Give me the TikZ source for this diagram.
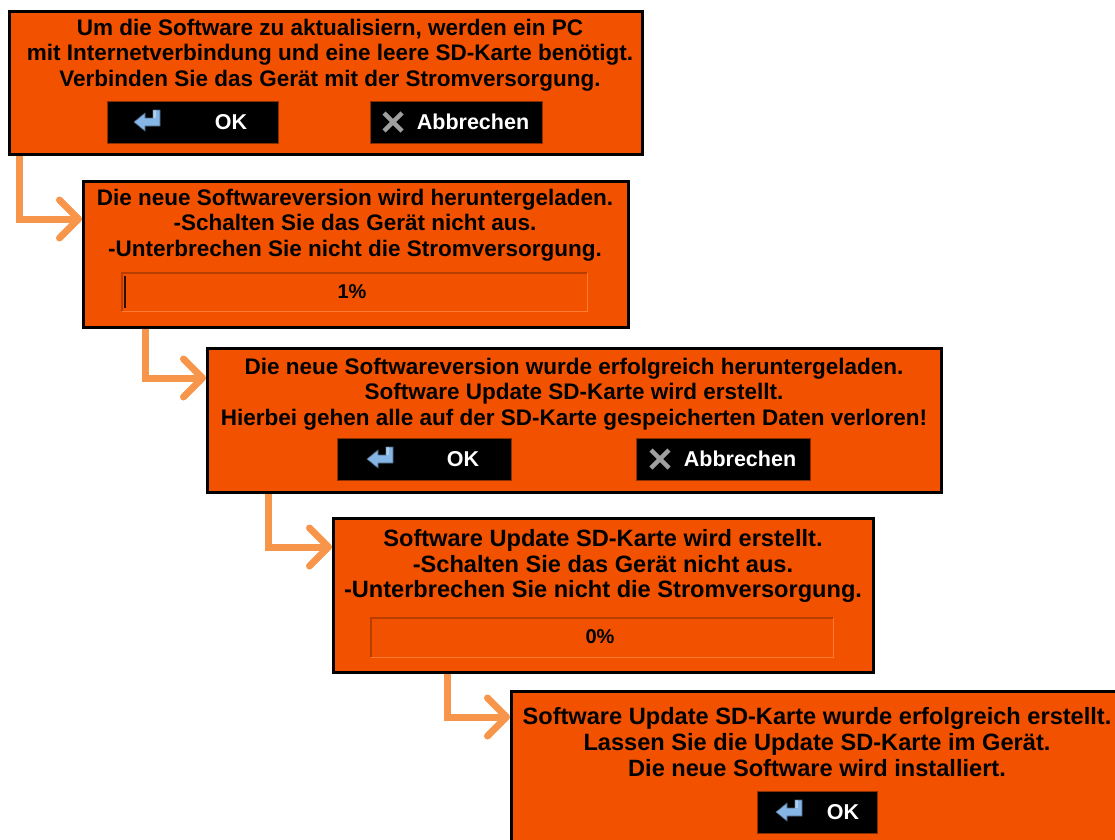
\documentclass[tikz,border=0pt]{standalone}
\usepackage{fontspec}
\setmainfont{Liberation Sans}
\usetikzlibrary{arrows.meta,calc}
\definecolor{scr}{HTML}{F25200}
\definecolor{flowc}{HTML}{F7964A}
\definecolor{bardark}{HTML}{B83E00}
\definecolor{barlight}{HTML}{FF7A33}
\definecolor{iconblue}{HTML}{86B6E6}
\definecolor{btnedge}{HTML}{8A3000}
\begin{document}
\begin{tikzpicture}[x=1pt,y=-1pt,
  screen/.style={draw=black, line width=3pt, fill=scr, inner sep=0pt, anchor=north west},
  msg/.style={font=\bfseries\fontsize{22.5}{25.3}\selectfont, align=center, text=black, inner sep=0pt},
  msgbig/.style={msg, font=\bfseries\fontsize{23.6}{25.6}\selectfont},
  btn/.style={fill=black, draw=btnedge, line width=1pt, inner sep=0pt, anchor=north west},
  btntext/.style={font=\bfseries\fontsize{21.5}{24}\selectfont, text=white, inner sep=0pt},
  bar/.style={inner sep=0pt, anchor=north west},
  pct/.style={font=\bfseries\fontsize{20}{22}\selectfont, text=black, inner sep=0pt},
  flow/.style={draw=flowc, line width=7pt, -{Straight Barb[length=19pt,width=38pt,round]}},
  reticon/.pic={
    \fill[iconblue, draw=iconblue!55!black, line width=0.6pt]
      (5,-11) -- (12,-11) -- (12,5) -- (-3,5) -- (-3,10) -- (-14,1) -- (-3,-8) -- (-3,-3) -- (5,-3) -- cycle;
    \fill[white, opacity=0.35] (5,-11) -- (8,-11) -- (8,-3) -- (5,-3) -- cycle;
  },
  xicon/.pic={
    \draw[gray!75, line width=4.5pt] (-9,-9) -- (9,9) (-9,9) -- (9,-9);
  }
]
\useasboundingbox (0,0) rectangle (1115,839);
\clip (0,0) rectangle (1115,839);

% Screen 1
\node[screen, minimum width=633pt, minimum height=143pt] (b1) at (8,10) {};
\node[msg] (t1) at (330,55) {Um die Software zu aktualisiern, werden ein PC\\mit Internetverbindung und eine leere SD-Karte benötigt.\\Verbinden Sie das Gerät mit der Stromversorgung.};
\node[btn, minimum width=171pt, minimum height=42pt] (ok1) at (107,101) {};
\pic at (148,121) {reticon};
\node[btntext] (ok1t) at (231,122) {OK};
\node[btn, minimum width=172pt, minimum height=42pt] (ab1) at (370,101) {};
\pic at (393,122) {xicon};
\node[btntext] (ab1t) at (473,122) {Abbrechen};

% Screen 2
\node[screen, minimum width=545pt, minimum height=146pt] (b2) at (82,180) {};
\node[msg] (t2) at (355,225) {Die neue Softwareversion wird heruntergeladen.\\-Schalten Sie das Gerät nicht aus.\\-Unterbrechen Sie nicht die Stromversorgung.};
\node[bar, minimum width=465pt, minimum height=38pt] (p2) at (122,273) {};
\draw[bardark, line width=1.2pt] (p2.south west) -- (p2.north west) -- (p2.north east);
\draw[barlight, line width=1.2pt] (p2.north east) -- (p2.south east) -- (p2.south west);
\draw[black!80!scr, line width=1.2pt] ([xshift=3pt,yshift=-3pt]p2.north west) -- ([xshift=3pt,yshift=3pt]p2.south west);
\node[pct] (p2t) at (352,292) {1\%};

% Screen 3
\node[screen, minimum width=734pt, minimum height=144pt] (b3) at (206,347) {};
\node[msg] (t3) at (574,394) {Die neue Softwareversion wurde erfolgreich heruntergeladen.\\Software Update SD-Karte wird erstellt.\\Hierbei gehen alle auf der SD-Karte gespeicherten Daten verloren!};
\node[btn, minimum width=174pt, minimum height=42pt] (ok3) at (337,438) {};
\pic at (381,458) {reticon};
\node[btntext] (ok3t) at (463,459) {OK};
\node[btn, minimum width=174pt, minimum height=42pt] (ab3) at (636,438) {};
\pic at (660,459) {xicon};
\node[btntext] (ab3t) at (740,459) {Abbrechen};

% Screen 4
\node[screen, minimum width=540pt, minimum height=154pt] (b4) at (332,517) {};
\node[msgbig] (t4) at (603,566) {Software Update SD-Karte wird erstellt.\\-Schalten Sie das Gerät nicht aus.\\-Unterbrechen Sie nicht die Stromversorgung.};
\node[bar, minimum width=462pt, minimum height=39pt] (p4) at (371,618) {};
\draw[bardark, line width=1.2pt] (p4.south west) -- (p4.north west) -- (p4.north east);
\draw[barlight, line width=1.2pt] (p4.north east) -- (p4.south east) -- (p4.south west);
\node[pct] (p4t) at (600,637) {0\%};

% Screen 5
\node[screen, minimum width=620pt, minimum height=160pt] (b5) at (510,690) {};
\node[msgbig] (t5) at (817,742) {Software Update SD-Karte wurde erfolgreich erstellt.\\Lassen Sie die Update SD-Karte im Gerät.\\Die neue Software wird installiert.};
\node[btn, minimum width=120pt, minimum height=42pt] (ok5) at (757,791) {};
\pic at (790,811) {reticon};
\node[btntext] (ok5t) at (843,812) {OK};

% Flow arrows
\draw[flow] ([xshift=11pt]b1.south west) |- ([yshift=-39pt]b2.north west);
\draw[flow] ([xshift=63pt]b2.south west) |- ([yshift=-31pt]b3.north west);
\draw[flow] ([xshift=62pt]b3.south west) |- ([yshift=-30pt]b4.north west);
\draw[flow] ([xshift=115pt]b4.south west) |- ([yshift=-27pt]b5.north west);
\end{tikzpicture}
\end{document}
